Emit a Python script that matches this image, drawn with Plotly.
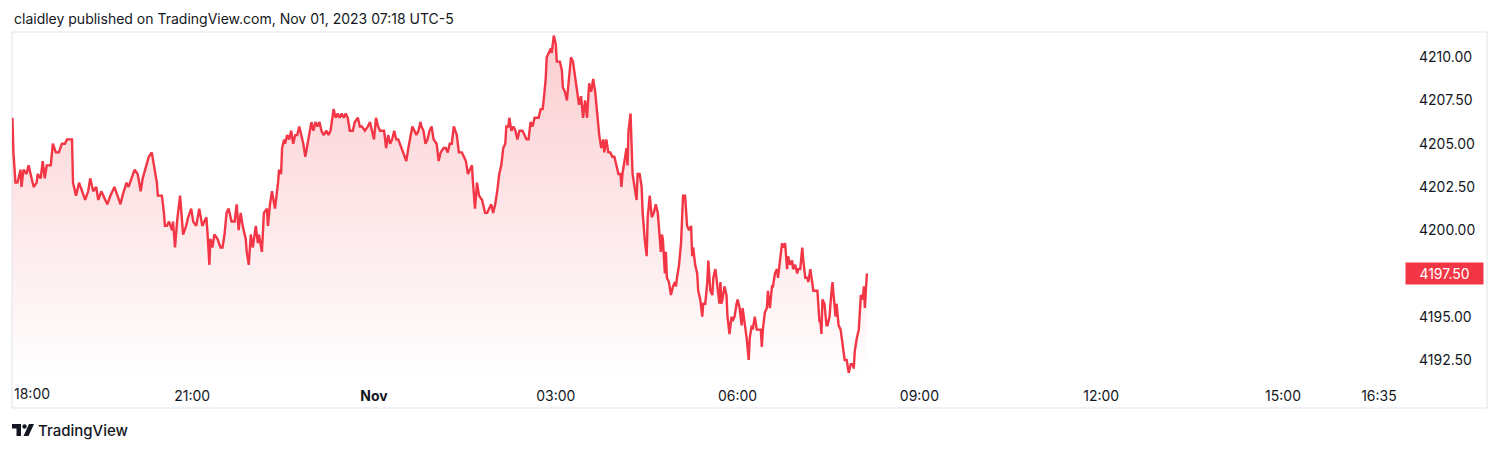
import pandas as pd
import plotly.graph_objects as go

# minutes after the 18:00 session open (Oct 31, 2023)
minutes = [
    2, 3, 5, 7, 10, 11, 13, 16, 18, 21, 23, 26, 27, 30, 32, 34, 36, 40, 42, 45,
    48, 51, 54, 56, 58, 61, 62, 65, 68, 71, 74, 77, 79, 82, 85, 87, 90, 92, 96, 99,
    103, 106, 109, 111, 115, 117, 120, 123, 126, 129, 131, 135, 137, 140, 142, 145, 146, 150, 152, 153,
    155, 157, 160, 161, 163, 165, 168, 170, 171, 174, 176, 179, 181, 184, 187, 190, 192, 194, 195, 197,
    198, 200, 202, 205, 208, 210, 212, 214, 216, 219, 222, 224, 226, 228, 230, 233, 234, 236, 238, 240,
    243, 245, 246, 249, 251, 254, 255, 257, 259, 262, 265, 266, 268, 269, 271, 272, 274, 276, 278, 280,
    282, 284, 286, 288, 290, 292, 294, 296, 298, 300, 302, 304, 306, 308, 310, 313, 315, 317, 319, 320,
    322, 324, 326, 328, 330, 332, 334, 336, 339, 341, 344, 346, 348, 351, 354, 356, 358, 360, 362, 364,
    366, 368, 370, 372, 374, 376, 378, 380, 382, 384, 387, 389, 392, 394, 396, 398, 400, 402, 404, 406,
    407, 409, 411, 413, 415, 417, 419, 422, 424, 426, 429, 431, 433, 435, 437, 439, 442, 444, 447, 449,
    451, 453, 455, 457, 458, 460, 462, 464, 467, 468, 470, 472, 474, 476, 478, 480, 482, 484, 486, 488,
    490, 491, 493, 494, 496, 498, 500, 502, 504, 505, 507, 509, 511, 513, 515, 517, 519, 521, 523, 525,
    527, 528, 530, 531, 533, 535, 536, 537, 538, 540, 541, 544, 546, 547, 549, 551, 553, 555, 557, 559,
    561, 563, 565, 567, 569, 571, 573, 575, 577, 579, 581, 583, 585, 587, 588, 590, 592, 594, 596, 598,
    600, 602, 604, 605, 606, 608, 610, 611, 612, 614, 615, 616, 618, 620, 621, 623, 625, 626, 628, 630,
    631, 633, 635, 637, 639, 641, 642, 644, 645, 646, 648, 649, 650, 652, 654, 656, 658, 659, 660, 662,
    664, 665, 666, 668, 669, 670, 672, 674, 675, 676, 678, 680, 681, 683, 685, 686, 688, 690, 691, 693,
    695, 696, 698, 700, 702, 703, 704, 705, 707, 709, 710, 712, 714, 715, 717, 719, 720, 722, 724, 725,
    727, 729, 731, 732, 734, 735, 737, 739, 741, 743, 744, 745, 747, 749, 750, 752, 754, 755, 757, 759,
    760, 762, 764, 765, 767, 769, 770, 772, 774, 775, 777, 779, 780, 782, 784, 785, 787, 789, 790, 792,
    794, 795, 797, 799, 801, 802, 803, 804, 806, 808, 809, 811, 813, 814, 815, 817, 818, 820, 822, 824,
    826, 828, 830, 832, 834, 835, 836, 838, 840, 841, 842, 844, 845, 846, 847, 848,
]

prices = [
    4206.50, 4204.50, 4202.75, 4202.75, 4203.50, 4202.50, 4203.50, 4203.25, 4203.75, 4203.00,
    4202.50, 4202.75, 4203.25, 4203.00, 4204.00, 4203.00, 4203.75, 4203.75, 4205.00, 4204.50,
    4204.50, 4205.00, 4205.00, 4205.25, 4205.25, 4205.25, 4202.75, 4202.00, 4202.75, 4202.25,
    4201.75, 4202.25, 4203.00, 4202.25, 4202.50, 4201.75, 4202.25, 4202.00, 4201.50, 4202.00,
    4202.50, 4202.00, 4201.50, 4202.00, 4202.75, 4202.50, 4203.00, 4203.50, 4203.25, 4202.25,
    4203.00, 4203.75, 4204.25, 4204.50, 4203.75, 4202.75, 4202.00, 4202.00, 4201.00, 4200.25,
    4200.25, 4200.50, 4200.00, 4200.50, 4199.00, 4200.50, 4202.00, 4200.75, 4199.75, 4200.25,
    4200.75, 4201.25, 4200.50, 4200.25, 4201.25, 4200.25, 4200.50, 4200.75, 4200.00, 4198.00,
    4199.50, 4199.00, 4199.75, 4199.50, 4199.00, 4199.00, 4199.75, 4201.00, 4201.25, 4200.50,
    4200.50, 4201.50, 4200.00, 4201.00, 4200.25, 4199.50, 4198.75, 4198.00, 4199.75, 4199.00,
    4200.25, 4199.25, 4199.75, 4198.75, 4201.00, 4201.25, 4200.25, 4201.50, 4202.25, 4201.25,
    4202.75, 4203.50, 4203.25, 4204.75, 4205.25, 4205.00, 4205.50, 4205.25, 4205.75, 4205.00,
    4205.50, 4205.50, 4206.00, 4205.50, 4205.00, 4204.25, 4205.00, 4205.75, 4206.25, 4205.75,
    4206.25, 4206.00, 4206.25, 4205.75, 4205.50, 4205.75, 4205.50, 4205.75, 4206.50, 4207.00,
    4206.50, 4206.75, 4206.50, 4206.75, 4206.50, 4206.75, 4206.50, 4205.75, 4205.75, 4206.25,
    4206.50, 4206.00, 4206.00, 4205.75, 4206.00, 4206.25, 4205.75, 4205.25, 4206.50, 4206.00,
    4205.75, 4205.75, 4205.75, 4204.75, 4205.50, 4205.00, 4205.25, 4205.75, 4205.25, 4205.25,
    4204.75, 4204.50, 4204.00, 4204.75, 4205.50, 4206.00, 4205.75, 4205.50, 4205.75, 4206.25,
    4206.00, 4205.75, 4205.00, 4205.25, 4205.75, 4206.00, 4205.25, 4205.00, 4204.00, 4204.50,
    4204.75, 4204.75, 4204.50, 4205.00, 4205.00, 4206.00, 4205.50, 4204.50, 4204.50, 4204.25,
    4204.00, 4203.25, 4203.50, 4203.75, 4202.75, 4201.25, 4202.75, 4202.00, 4201.75, 4201.50,
    4201.00, 4201.00, 4201.25, 4201.50, 4201.00, 4201.50, 4202.25, 4203.25, 4203.75, 4204.75,
    4205.00, 4206.00, 4206.00, 4206.50, 4205.75, 4206.00, 4205.75, 4205.25, 4205.75, 4205.75,
    4205.75, 4205.50, 4205.25, 4205.25, 4206.25, 4206.00, 4206.50, 4206.50, 4206.50, 4207.00,
    4207.00, 4207.50, 4208.75, 4210.00, 4210.25, 4210.50, 4210.25, 4211.00, 4211.25, 4210.75,
    4209.75, 4209.75, 4209.25, 4208.25, 4208.00, 4207.50, 4209.00, 4210.00, 4209.75, 4209.00,
    4208.25, 4207.25, 4207.75, 4206.50, 4207.50, 4206.50, 4208.50, 4208.00, 4208.75, 4208.00,
    4206.75, 4205.50, 4204.75, 4205.25, 4204.50, 4205.25, 4204.50, 4204.50, 4204.25, 4204.25,
    4203.75, 4203.25, 4203.25, 4202.50, 4203.25, 4204.00, 4204.75, 4203.75, 4205.75, 4206.75,
    4205.00, 4203.25, 4202.50, 4201.75, 4203.25, 4203.25, 4202.50, 4201.00, 4199.50, 4198.50,
    4200.75, 4202.00, 4200.75, 4201.00, 4201.50, 4201.00, 4200.25, 4198.75, 4199.75, 4199.50,
    4197.50, 4198.75, 4197.25, 4197.00, 4196.25, 4196.75, 4197.00, 4196.75, 4197.25, 4198.00,
    4199.25, 4200.50, 4202.00, 4202.00, 4200.75, 4200.25, 4200.00, 4200.25, 4198.50, 4199.00,
    4198.00, 4197.50, 4196.50, 4196.00, 4195.00, 4195.75, 4195.75, 4197.00, 4198.25, 4196.50,
    4196.25, 4197.25, 4197.75, 4196.75, 4195.75, 4197.00, 4195.75, 4196.00, 4196.75, 4196.25,
    4195.00, 4194.00, 4195.00, 4194.75, 4195.00, 4195.75, 4196.00, 4195.50, 4194.50, 4195.50,
    4194.75, 4193.75, 4192.50, 4193.75, 4194.50, 4194.25, 4195.00, 4194.25, 4194.25, 4194.25,
    4193.25, 4194.25, 4195.25, 4195.50, 4196.50, 4195.50, 4196.75, 4196.75, 4197.50, 4197.75,
    4197.25, 4198.25, 4199.25, 4199.00, 4199.25, 4197.75, 4198.50, 4198.00, 4198.25, 4197.75,
    4198.00, 4197.50, 4197.75, 4197.75, 4199.00, 4198.25, 4197.25, 4197.25, 4197.00, 4197.75,
    4197.00, 4196.50, 4196.50, 4196.50, 4194.75, 4194.75, 4194.00, 4196.00, 4195.75, 4194.50,
    4194.50, 4195.00, 4196.50, 4197.00, 4196.25, 4195.00, 4195.75, 4194.50, 4194.25, 4193.25,
    4192.50, 4192.50, 4191.75, 4192.25, 4192.25, 4192.00, 4193.00, 4193.75, 4194.25, 4195.25,
    4196.25, 4196.00, 4196.75, 4195.50, 4196.75, 4197.50,
]

price_ticks = [4192.50, 4195.00, 4197.50, 4200.00, 4202.50, 4205.00, 4207.50, 4210.00]
time_ticks = ["2023-10-31 21:00", "2023-11-01 00:00", "2023-11-01 03:00", "2023-11-01 06:00",
              "2023-11-01 09:00", "2023-11-01 12:00", "2023-11-01 15:00", "2023-11-01 16:35"]
time_labels = ["21:00", "<b>Nov</b>", "03:00", "06:00", "09:00", "12:00", "15:00", "16:35"]
last_price = prices[-1]

n = min(len(minutes), len(prices))
session_open = pd.Timestamp("2023-10-31 18:00")
times = [session_open + pd.Timedelta(minutes=m) for m in minutes[:n]]
vals = prices[:n]

RED = "#f23645"
TXT = "#131722"
FONT = "Inter, Roboto, sans-serif"

# page body has an 8px margin: the figure is laid out in page pixels minus that offset
OFF = 8
W, H = 1492, 442
L, R, T, B = 12 - OFF, 100, 32 - OFF, 70
PW, PH = W - L - R, H - T - B


def px(x):
    return (x - OFF - L) / PW


def py(y):
    return (H - B - (y - OFF)) / PH


fig = go.Figure()
fig.add_trace(go.Scatter(
    x=times, y=vals, mode="lines",
    line=dict(color=RED, width=2.4),
    fill="tozeroy",
    fillgradient=dict(type="vertical", start=4191.3, stop=4211.3,
                      colorscale=[[0, "rgba(242,54,69,0.0)"], [1, "rgba(242,54,69,0.25)"]]),
    hoverinfo="skip", showlegend=False,
))

shapes = [
    dict(type="rect", xref="paper", yref="paper", x0=px(12), x1=px(1487), y0=py(408), y1=py(32),
         line=dict(color="#e0e3eb", width=1), fillcolor="rgba(0,0,0,0)", layer="below"),
    # TradingView logo
    dict(type="path", xref="paper", yref="paper",
         path=f"M {px(12)} {py(424)} L {px(21)} {py(424)} L {px(21)} {py(436)} L {px(16.5)} {py(436)} "
              f"L {px(16.5)} {py(428.5)} L {px(12)} {py(428.5)} Z",
         fillcolor=TXT, line=dict(width=0)),
    dict(type="circle", xref="paper", yref="paper", x0=px(22.3), x1=px(26.7), y0=py(428.7), y1=py(424.3),
         fillcolor=TXT, line=dict(width=0)),
    dict(type="path", xref="paper", yref="paper",
         path=f"M {px(29)} {py(424)} L {px(34)} {py(424)} L {px(28.5)} {py(436)} L {px(23.5)} {py(436)} Z",
         fillcolor=TXT, line=dict(width=0)),
]

annotations = [
    dict(text="claidley published on TradingView.com, Nov 01, 2023 07:18 UTC-5",
         xref="paper", yref="paper", x=px(12), y=py(18), xanchor="left", yanchor="middle",
         showarrow=False, font=dict(family=FONT, size=14, color=TXT)),
    dict(text="TradingView", xref="paper", yref="paper", x=px(36), y=py(430),
         xanchor="left", yanchor="middle", showarrow=False,
         font=dict(family=FONT, size=15, color=TXT, weight=500)),
    dict(text="18:00", xref="paper", yref="paper", x=px(12), y=py(393),
         xanchor="left", yanchor="middle", showarrow=False,
         font=dict(family=FONT, size=14, color=TXT)),
    dict(text=f"{last_price:.2f}", xref="paper", yref="y", x=px(1405), y=last_price,
         xanchor="left", yanchor="middle", showarrow=False, bgcolor=RED, borderpad=2,
         width=73, align="center", font=dict(family=FONT, size=14, color="white")),
]

fig.update_layout(
    width=W, height=H,
    margin=dict(l=L, r=R, t=T, b=B),
    paper_bgcolor="white", plot_bgcolor="white",
    shapes=shapes, annotations=annotations,
    xaxis=dict(type="date", range=["2023-10-31 18:01:35", "2023-11-01 16:55:50"],
               tickvals=time_ticks, ticktext=time_labels, showgrid=False, zeroline=False,
               showline=False, ticks="", ticklabelstandoff=6,
               tickfont=dict(family=FONT, size=14, color=TXT)),
    yaxis=dict(side="right", range=[4191.34, 4211.46], tickvals=price_ticks,
               tickformat=".2f", showgrid=False, zeroline=False, showline=False, ticks="",
               ticklabelstandoff=18, tickfont=dict(family=FONT, size=14, color=TXT)),
    font=dict(family=FONT),
)

fig.write_html("out.html")
